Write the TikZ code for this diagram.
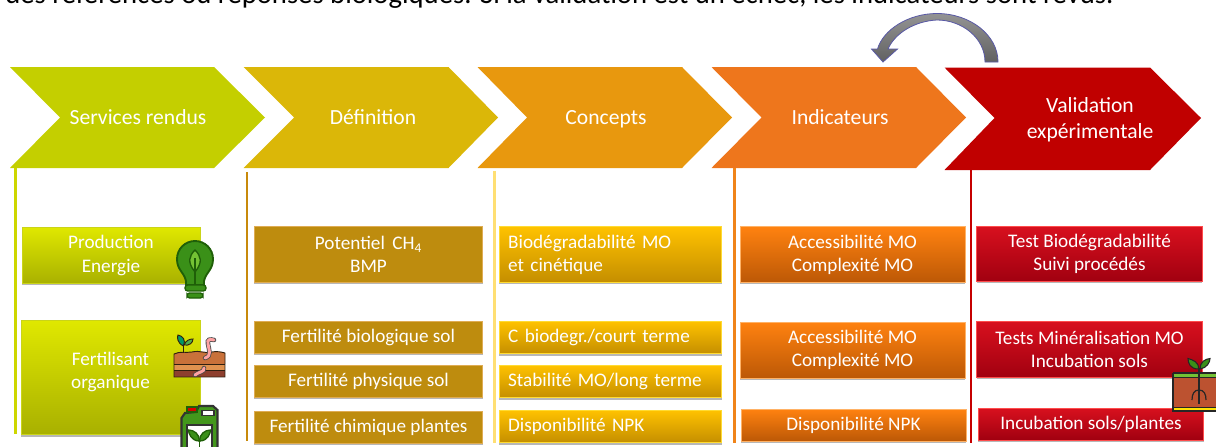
\documentclass[tikz,border=0pt]{standalone}
\usepackage{fontspec}
\setmainfont{Carlito}
\usepackage{xcolor}
\usetikzlibrary{shadows}

\definecolor{servicesgreen}{HTML}{C4CF00}
\definecolor{definitiongold}{HTML}{DBB708}
\definecolor{conceptamber}{HTML}{E8980E}
\definecolor{indicorange}{HTML}{EE761C}
\definecolor{validred}{HTML}{C00000}
\definecolor{brownbox}{HTML}{BE8C0E}
\definecolor{leafdark}{HTML}{1F5F08}
\definecolor{leafmid}{HTML}{3A9018}
\definecolor{leaflight}{HTML}{74C234}
\definecolor{greentop}{HTML}{E0E800}
\definecolor{greenmid}{HTML}{D0DA00}
\definecolor{greenlow}{HTML}{A8B000}
\definecolor{ambertop}{HTML}{FFC200}
\definecolor{ambermid}{HTML}{F2B500}
\definecolor{amberlow}{HTML}{C48E00}
\definecolor{orangetop}{HTML}{FF8210}
\definecolor{orangemid}{HTML}{F57A0E}
\definecolor{orangelow}{HTML}{BC5806}
\definecolor{redtop}{HTML}{D8101E}
\definecolor{redmid}{HTML}{CC0010}
\definecolor{redlow}{HTML}{A00010}
\definecolor{soiltop}{HTML}{C9713A}
\definecolor{soilmid}{HTML}{E0924F}
\definecolor{soillow}{HTML}{8E3F2E}
\definecolor{potred}{HTML}{BC5230}

\tikzset{
    headtext/.style={inner sep=0.75pt,text=white,align=center,font=\fontsize{16.2}{19.5}\selectfont},
    cardfont/.style={text=white,align=center,font=\fontsize{14.4}{17.3}\selectfont},
    cardtext/.style={cardfont,draw,line width=0.6pt,inner sep=0pt,
        drop shadow={shadow xshift=0pt,shadow yshift=-1.3pt,opacity=0.4,fill=black!70}},
    cardgreen/.style={cardtext,draw=servicesgreen!90!white,top color=greentop,middle color=greenmid,bottom color=greenlow},
    cardbrown/.style={cardtext,draw=brownbox!70!orange!70!white,fill=brownbox},
    cardamber/.style={cardtext,draw=orange!35!yellow!80!white,top color=ambertop,middle color=ambermid,bottom color=amberlow},
    amberleft/.style={align=left,text width=153.5pt,inner xsep=6.75pt},
    cardorange/.style={cardtext,draw=orange!60!white,top color=orangetop,middle color=orangemid,bottom color=orangelow},
    cardred/.style={cardtext,draw=red!70!white,top color=redtop,middle color=redmid,bottom color=redlow},
    rail/.style={line width=1.7pt},
    iconline/.style={draw=black!75!brown,line width=0.7pt},
}

\begin{document}
\begin{tikzpicture}[x=0.75pt,y=0.75pt,yscale=-1,xscale=1]
        \useasboundingbox (0,0) rectangle (1216,446);
        % Text Node
        \node (caption) [anchor=base west,inner sep=0pt,font=\fontsize{21.5}{24}\selectfont] at (5,3.5) {des références ou réponses biologiques. Si la validation est un échec, les indicateurs sont revus.};

        %Shape: Chevron
        \fill [servicesgreen] (10,67) -- (214,67) -- (265,117.5) -- (214,168) -- (10,168) -- (60,117.5) -- cycle ;
        %Shape: Chevron
        \fill [definitiongold] (243.5,67) -- (448.5,67) -- (498,117.5) -- (448.5,168) -- (243.5,168) -- (294,117.5) -- cycle ;
        %Shape: Chevron
        \fill [conceptamber] (477.5,67) -- (682,67) -- (732,117.5) -- (682,168) -- (477.5,168) -- (527,117.5) -- cycle ;
        %Shape: Chevron
        \fill [indicorange] (711.5,67) -- (916,67) -- (966,117.5) -- (916,168) -- (711.5,168) -- (761.5,117.5) -- cycle ;
        %Shape: Chevron
        \fill [validred] (944.5,67.5) -- (1150,67.5) -- (1201,118) -- (1150,170) -- (944.5,170) -- (994.5,118) -- cycle ;
        % Text Node
        \node (services) [headtext] at (138,117) {Services rendus};
        % Text Node
        \node (definition) [headtext] at (373,117) {Définition};
        % Text Node
        \node (concepts) [headtext] at (606,119.5) {Concepts};
        % Text Node
        \node (indicateurs) [headtext] at (840,117) {Indicateurs};
        % Text Node
        \node (validation) [headtext] at (1090,120) {Validation\\expérimentale};

        %Shape: Curved Arrow
        \draw [draw=blue!30!gray,line width=0.6pt,top color=black!42,bottom color=black!62]
            (998,62) .. controls (998,35) and (970,13.5) .. (937,13.5)
            .. controls (908,13.5) and (883,30) .. (877.5,49) -- (871.5,49) -- (883,62) -- (897.5,49) -- (888,49)
            .. controls (895,33) and (915,21) .. (937,20)
            .. controls (962,20) and (985,38) .. (985,62) -- cycle ;

        %Straight Lines
        \coordinate (railstarta) at (15.5,168) ;
        \coordinate (railenda) at (15.5,434) ;
        \draw [rail,servicesgreen!85!yellow] (railstarta) -- (railenda) ;
        %Straight Lines
        \coordinate (railstartb) at (247,172) ;
        \coordinate (railendb) at (247,441) ;
        \draw [rail,brownbox!85!orange] (railstartb) -- (railendb) ;
        %Straight Lines
        \coordinate (railstartc) at (494.5,171) ;
        \coordinate (railendc) at (494.5,443) ;
        \draw [rail,orange!45!yellow!55!white] (railstartc) -- (railendc) ;
        %Straight Lines
        \coordinate (railstartd) at (734.5,168) ;
        \coordinate (railendd) at (734.5,443) ;
        \draw [rail,indicorange!90!yellow] (railstartd) -- (railendd) ;
        %Straight Lines
        \coordinate (railstarte) at (971,170) ;
        \coordinate (railende) at (971,443) ;
        \draw [rail,validred!90!red] (railstarte) -- (railende) ;

        % Text Node
        \node (energie) [cardgreen,minimum width=133.5pt,minimum height=42pt] at (111,255.5) {Production\\Energie};
        %Shape: Rectangle
        \node (fertilisantbox) [cardgreen,minimum width=134.25pt,minimum height=86pt] at (110.5,377.5) {};
        % Text Node
        \node (fertilisant) [cardfont,inner sep=0pt] at (110.5,372) {Fertilisant\\organique};

        % Text Node
        \node (potentiel) [cardbrown,minimum width=171.5pt,minimum height=42pt] at (368.5,254.5) {Potentiel\, CH\textsubscript{4}\\BMP};
        % Text Node
        \node (fertbio) [cardbrown,minimum width=171.5pt,minimum height=24pt] at (368.5,337) {Fertilité biologique sol};
        % Text Node
        \node (fertphy) [cardbrown,minimum width=171.5pt,minimum height=24pt] at (368.5,381.5) {Fertilité physique sol};
        % Text Node
        \node (fertchi) [cardbrown,minimum width=171.5pt,minimum height=24pt] at (368.5,427) {Fertilité chimique plantes};

        % Text Node
        \node (biodeg) [cardamber,amberleft,minimum width=167pt,minimum height=42pt] at (610.5,254.5) {Biodégradabilité MO\\et cinétique};
        % Text Node
        \node (courtterme) [cardamber,amberleft,minimum width=167pt,minimum height=24.5pt] at (610.5,337.5) {C biodegr./court terme};
        % Text Node
        \node (longterme) [cardamber,amberleft,minimum width=167pt,minimum height=24.5pt] at (610.5,381.5) {Stabilité MO/long terme};
        % Text Node
        \node (npkconcept) [cardamber,amberleft,minimum width=167pt,minimum height=24.5pt] at (610.5,426.5) {Disponibilité NPK};

        % Text Node
        \node (accesa) [cardorange,minimum width=168.75pt,minimum height=42pt] at (852.5,254.5) {Accessibilité MO\\Complexité MO};
        % Text Node
        \node (accesb) [cardorange,minimum width=168.75pt,minimum height=42pt] at (852.5,350) {Accessibilité MO\\Complexité MO};
        % Text Node
        \node (npkindic) [cardorange,minimum width=168.75pt,minimum height=24pt] at (853.5,425) {Disponibilité NPK};

        % Text Node
        \node (testbio) [cardred,minimum width=169pt,minimum height=41.5pt] at (1089.5,254) {Test Biodégradabilité\\Suivi procédés};
        % Text Node
        \node (testmin) [cardred,minimum width=169pt,minimum height=42pt] at (1089.5,349.5) {Tests Minéralisation MO\\Incubation sols};
        % Text Node
        \node (incub) [cardred,minimum width=169pt,minimum height=24pt] at (1091,424) {Incubation sols/plantes};

        %Shape: Bulb
        \draw [leafdark,line width=1.4pt,fill=leafmid] (186,281) .. controls (184,272) and (177,270) .. (177,259)
            .. controls (177,249) and (185,241) .. (195,241) .. controls (205,241) and (213,249) .. (213,259)
            .. controls (213,270) and (206,272) .. (204,281) -- (204,285) -- (186,285) -- cycle ;
        \draw [leafdark,line width=1pt,fill=leaflight] (195,250) .. controls (201,256) and (203,262) .. (195,272)
            .. controls (187,262) and (189,256) .. (195,250) -- cycle ;
        \draw [leafdark,line width=1pt] (195,258) -- (195,284) ;
        \draw [leafdark,line width=1pt,fill=leafmid,rounded corners=2pt] (185,285) rectangle (206,291) ;
        \draw [leafdark,line width=1pt,fill=leafmid,rounded corners=2pt] (187,293) rectangle (203,298) ;

        %Shape: Soil
        \fill [soiltop] (174,354) .. controls (180,351) and (186,353) .. (192,352) .. controls (200,350) and (206,354) .. (212,352)
            .. controls (216,351) and (222,352) .. (225,353) -- (225,364) -- (174,364) -- cycle ;
        \fill [soilmid] (174,364) rectangle (225,370) ;
        \fill [soillow] (174,370) rectangle (225,377) ;
        \draw [iconline] (174,354) .. controls (180,351) and (186,353) .. (192,352) .. controls (200,350) and (206,354) .. (212,352)
            .. controls (216,351) and (222,352) .. (225,353) -- (225,377) -- (174,377) -- cycle ;
        \draw [iconline] (174,364) -- (225,364) (174,370) -- (225,370) ;
        %Shape: Sprout
        \draw [iconline] (183.5,353) -- (183.5,345) ;
        \draw [iconline,fill=teal!80!green] (183.5,346) .. controls (177,343) and (177,337) .. (178,335) .. controls (183,336) and (186,340) .. (183.5,346) -- cycle ;
        \draw [iconline,fill=leaflight!70!teal] (184,345) .. controls (186,340) and (190,339) .. (193,339) .. controls (193,343) and (189,346) .. (184,345) -- cycle ;
        %Shape: Worm
        \draw [black!70,line width=3.4pt,line cap=round] (205,358) .. controls (212,356) and (209,350) .. (208,344) .. controls (207,339) and (210,339) .. (214,340) ;
        \draw [pink!85!red,line width=2.2pt,line cap=round] (205,358) .. controls (212,356) and (209,350) .. (208,344) .. controls (207,339) and (210,339) .. (214,340) ;
        \draw [black!70,line width=3.4pt,line cap=round] (195,375) .. controls (198,372) and (205,372) .. (204,368) ;
        \draw [pink!85!red,line width=2.2pt,line cap=round] (195,375) .. controls (198,372) and (205,372) .. (204,368) ;

        %Shape: Jerrycan
        \draw [black!80,line width=1.6pt,fill=leafmid!85!leaflight] (181.5,450) -- (181.5,418) -- (185,413) -- (196,412) -- (199,406) -- (213,406) -- (217.5,410) -- (217.5,450) ;
        \draw [leafdark,line width=0.8pt,fill=red!85!black] (187,407) rectangle (197,412) ;
        \draw [black!80,line width=0.8pt,fill=white] (202,410.5) rectangle (214,415.5) ;
        \draw [black!80,line width=0.8pt,fill=white] (187,425) rectangle (212,450) ;
        \draw [leafdark,line width=1pt,fill=leafmid] (199.5,441) .. controls (191,441) and (188.5,433) .. (188.5,430) .. controls (194,430) and (199.5,434) .. (199.5,441) -- cycle ;
        \draw [leafdark,line width=1pt,fill=leafmid] (199.5,441) .. controls (208,441) and (210.5,433) .. (210.5,430) .. controls (205,430) and (199.5,434) .. (199.5,441) -- cycle ;
        \draw [leafdark,line width=1pt] (199.5,441) -- (199.5,447) ;

        %Shape: Root Pot
        \fill [potred] (1173,376) rectangle (1217,408) ;
        \fill [leaflight] (1173,373) rectangle (1217,377) ;
        \fill [yellow!85!orange] (1173,407.5) rectangle (1217,411) ;
        \draw [black!85,line width=1.1pt] (1173,373) -- (1217,373) (1173,377.5) -- (1217,377.5) (1173,373) -- (1173,411) -- (1217,411) (1173,407.5) -- (1217,407.5) ;
        \draw [black!85,line width=1.2pt] (1199,368) -- (1199,404) ;
        \draw [black!85,line width=0.9pt] (1199,390) .. controls (1194,390) and (1192,394) .. (1192,400) (1199,390) .. controls (1204,390) and (1206,394) .. (1206,400) ;
        \draw [black!85,line width=0.8pt,fill=leafmid] (1198.5,369) .. controls (1190,369) and (1188,363) .. (1188,358.5) .. controls (1193,360) and (1199,362) .. (1198.5,369) -- cycle ;
        \draw [black!85,line width=0.8pt,fill=leafmid] (1200,369) .. controls (1207,368) and (1210,362) .. (1210,358.5) .. controls (1205,359) and (1200,362) .. (1200,369) -- cycle ;
\end{tikzpicture}
\end{document}
